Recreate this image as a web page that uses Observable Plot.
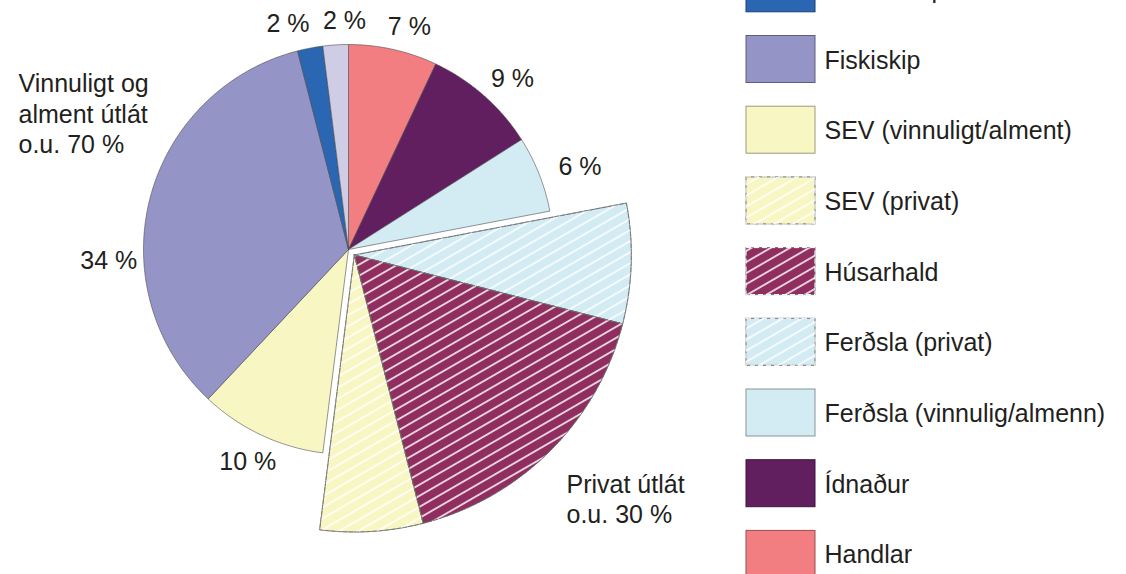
<!DOCTYPE html>
<html>
<head>
<meta charset="utf-8">
<script src="https://cdn.jsdelivr.net/npm/d3@7"></script>
<script src="https://cdn.jsdelivr.net/npm/@observablehq/plot@0.6"></script>
<style>
  html, body { margin: 0; padding: 0; background: #fff; overflow: hidden; }
</style>
</head>
<body>
<div id="chart"></div>
<script>
// ---------- data (clockwise from 12 o'clock) ----------
const categories = ["Handlar", "Ídnaður", "Ferðsla (vinnulig/almenn)", "Ferðsla (privat)", "Húsarhald", "SEV (privat)", "SEV (vinnuligt/alment)", "Fiskiskip", "Onnur skip", "Annað"];
const values = [7, 9, 6, 7, 17, 6, 10, 34, 2, 2];
const privat = [false, false, false, true, true, true, false, false, false, false];
const colors = ["#f27e81", "#611f60", "#d3ecf3", "#d3ecf3", "#8f2e5f", "#f8f6c3", "#f8f6c3", "#9594c7", "#2a66b1", "#cfcde5"];
const valueLabels = ["7 %", "9 %", "6 %", "", "", "", "10 %", "34 %", "2 %", "2 %"];
const groupLabels = ["Vinnuligt og\nalment útlát\no.u. 70 %", "Privat útlát\no.u. 30 %"];

// ---------- layout ----------
const W = 1126, H = 574;
const CENTER = [348, 249], R = 205, R_EXPLODED = 277, EXPLODE = 8;
const LABEL_POS = { // [angle nudge in degrees, radius]
  "Handlar": [2.6, 232], "Ídnaður": [2.4, 237], "Ferðsla (vinnulig/almenn)": [1.8, 246],
  "SEV (vinnuligt/alment)": [0.3, 234], "Fiskiskip": [-16.9, 240], "Onnur skip": [-4.2, 234], "Annað": [2.6, 230]
};
const GROUP_POS = [[18, 70], [566, 470.5]];
const LEGEND = {x1: 746, x2: 815, firstCenter: 59 - 2 * 70.7, step: 70.7, h: 47, textX: 824};
const FONT = "'Liberation Sans', Arial, Helvetica, sans-serif";
const TEXT_COLOR = "#231f20";

const data = categories.map((c, i) => ({category: c, value: values[i], privat: privat[i], color: colors[i], label: valueLabels[i]}));
const arcs = d3.pie().sort(null).value(d => d.value)(data);
const pt = (c, r, a) => ({x: c[0] + r * Math.sin(a), y: c[1] - r * Math.cos(a)});
const pr = arcs.filter(a => a.data.privat);
const midPriv = (pr[0].startAngle + pr[pr.length - 1].endAngle) / 2;
const exP = pt(CENTER, EXPLODE, midPriv);
const EX_CENTER = [exP.x, exP.y];

const slicePts = [];
arcs.forEach(a => {
  const c = a.data.privat ? EX_CENTER : CENTER;
  const r = a.data.privat ? R_EXPLODED : R;
  const n = Math.max(2, Math.ceil((a.endAngle - a.startAngle) / (Math.PI / 360)));
  const base = {key: a.data.category, fill: a.data.color, privat: a.data.privat};
  slicePts.push({...base, ...pt(c, 0, 0)});
  for (let k = 0; k <= n; k++) slicePts.push({...base, ...pt(c, r, a.startAngle + (a.endAngle - a.startAngle) * k / n)});
  slicePts.push({...base, ...pt(c, 0, 0)});
});
const privPts = slicePts.filter(d => d.privat);

const labelData = arcs.filter(a => a.data.label).map(a => {
  const [nudge, r] = LABEL_POS[a.data.category];
  const ang = (a.startAngle + a.endAngle) / 2 + nudge * Math.PI / 180;
  return {text: a.data.label, ...pt(CENTER, r, ang)};
});

const legendData = data.slice().reverse().map((d, i) => ({...d, cy: LEGEND.firstCenter + i * LEGEND.step}));
const swStroke = d => d.privat ? "#6d6e71" : d3.color(d.color).darker(1.3).formatHex();

const chart = Plot.plot({
  width: W, height: H, margin: 0,
  x: {domain: [0, W], axis: null},
  y: {domain: [0, H], reverse: true, axis: null},
  color: {type: "identity"},
  style: {fontFamily: FONT, color: TEXT_COLOR, background: "white", overflow: "hidden"},
  marks: [
    // pie slices
    Plot.line(slicePts, {x: "x", y: "y", z: "key", fill: "fill", stroke: "#4d4d4f", strokeWidth: 0.6, curve: "linear"}),
    // hatching for private slices
    Plot.line(privPts, {x: "x", y: "y", z: "key", fill: "url(#hatch)", stroke: "#6d6e71", strokeWidth: 0.8, strokeDasharray: "4 2", curve: "linear"}),
    // value labels
    Plot.text(labelData, {x: "x", y: "y", text: "text", fontSize: 25, textAnchor: "middle", lineAnchor: "middle", dy: 1}),
    // group labels
    Plot.text(groupLabels, {x: (d, i) => GROUP_POS[i][0], y: (d, i) => GROUP_POS[i][1], text: d => d, fontSize: 25, textAnchor: "start", lineAnchor: "top", lineHeight: 1.22}),
    // legend
    Plot.rect(legendData, {x1: () => LEGEND.x1, x2: () => LEGEND.x2, y1: d => d.cy - LEGEND.h / 2, y2: d => d.cy + LEGEND.h / 2, fill: "color", stroke: swStroke, strokeWidth: 1}),
    Plot.rect(legendData.filter(d => d.privat), {x1: () => LEGEND.x1, x2: () => LEGEND.x2, y1: d => d.cy - LEGEND.h / 2, y2: d => d.cy + LEGEND.h / 2, fill: "url(#hatch)", stroke: "white", strokeWidth: 1, strokeDasharray: "5 3"}),
    Plot.text(legendData, {x: () => LEGEND.textX, y: "cy", text: "category", fontSize: 25, textAnchor: "start", lineAnchor: "middle", dy: 1})
  ]
});

// hatch pattern definition
const ns = "http://www.w3.org/2000/svg";
const defs = document.createElementNS(ns, "defs");
const pat = document.createElementNS(ns, "pattern");
pat.setAttribute("id", "hatch");
pat.setAttribute("patternUnits", "userSpaceOnUse");
pat.setAttribute("width", "20");
pat.setAttribute("height", "9.6");
pat.setAttribute("patternTransform", "rotate(-30)");
const ln = document.createElementNS(ns, "line");
ln.setAttribute("x1", "0"); ln.setAttribute("x2", "20");
ln.setAttribute("y1", "4.8"); ln.setAttribute("y2", "4.8");
ln.setAttribute("stroke", "white"); ln.setAttribute("stroke-width", "1.5");
pat.appendChild(ln);
defs.appendChild(pat);
chart.insertBefore(defs, chart.firstChild);

document.getElementById("chart").appendChild(chart);
</script>
</body>
</html>
